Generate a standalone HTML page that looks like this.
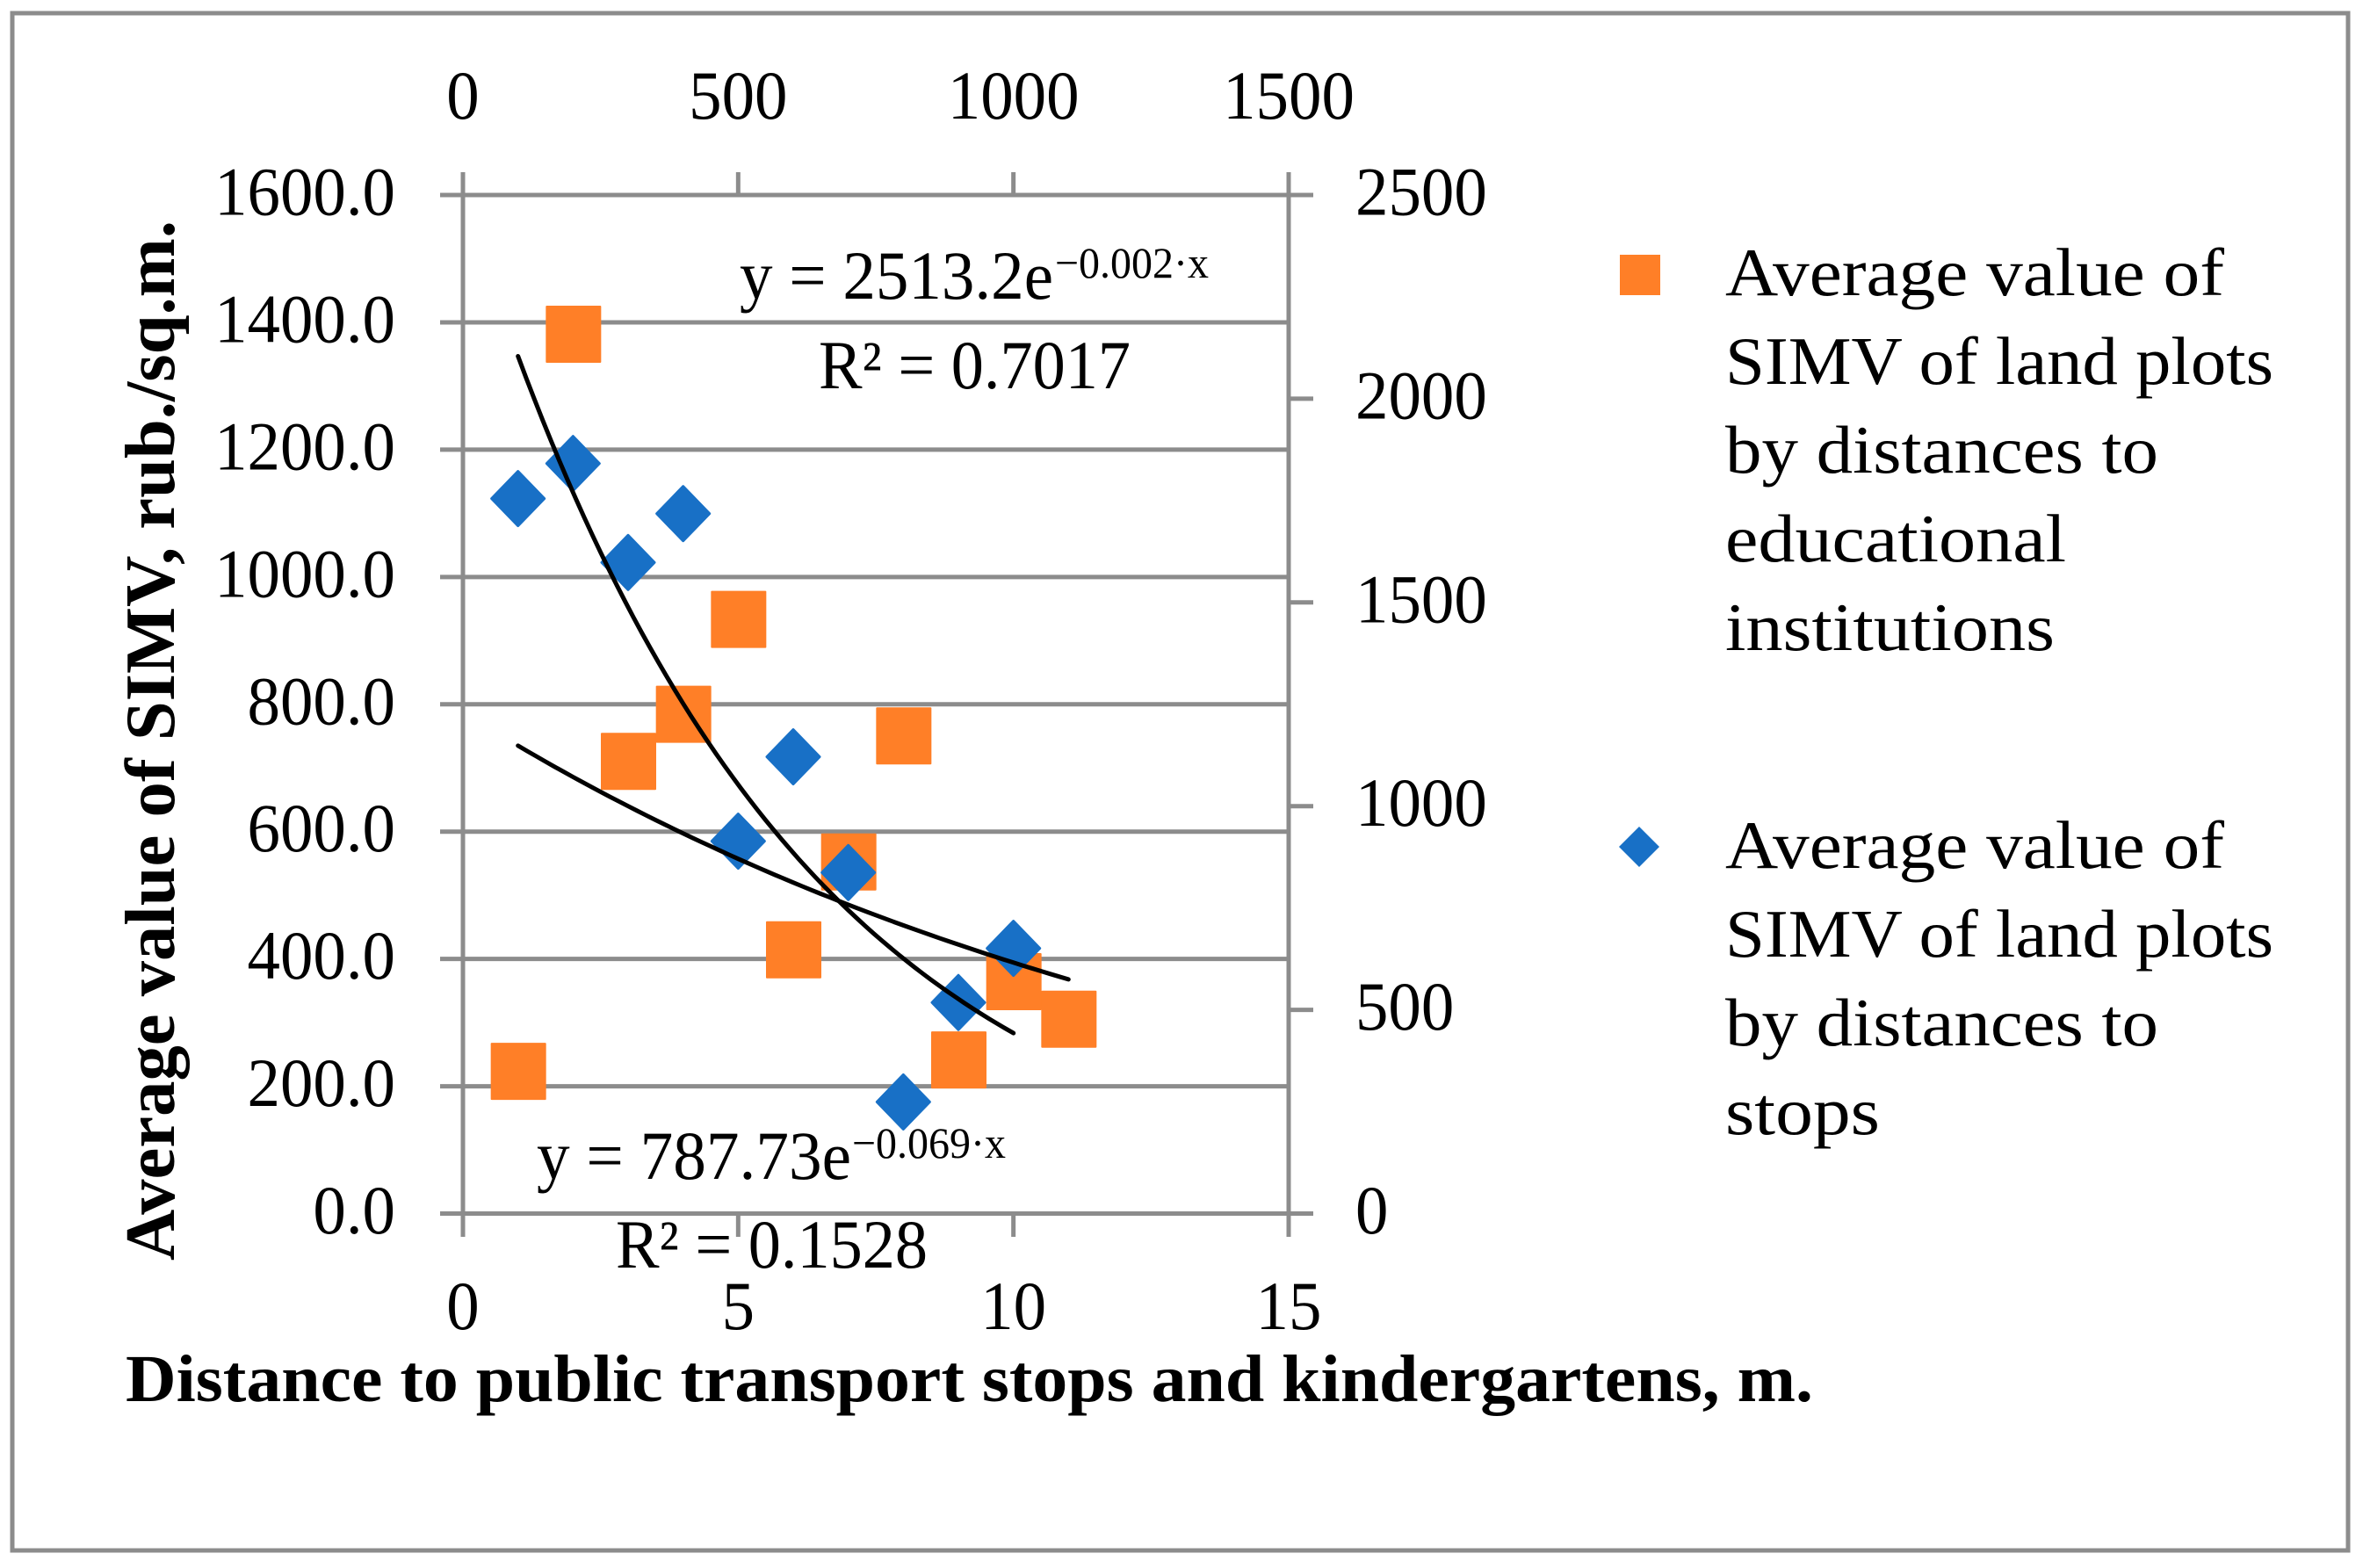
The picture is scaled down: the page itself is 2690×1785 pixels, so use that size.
<!DOCTYPE html>
<html lang="en">
<head>
<meta charset="utf-8">
<title>Average value of SIMV by distance</title>
<style>
html,body{margin:0;padding:0;background:#fff;width:2690px;height:1785px;overflow:hidden}
svg{display:block}
text{font-family:"Liberation Serif",serif;fill:#000}
</style>
</head>
<body>
<svg id="chart" xmlns="http://www.w3.org/2000/svg" width="2690" height="1785" viewBox="0 0 2690 1785">
  <rect x="14" y="15" width="2659" height="1750" fill="#fff" stroke="#8c8c8c" stroke-width="5"/>
  <g id="grid"></g>
  <g id="ticks"></g>
  <g id="marks"></g>
  <g id="trends"></g>

  <text transform="translate(198,1435) rotate(-90)" font-size="80" font-weight="bold" textLength="1184" lengthAdjust="spacingAndGlyphs">Average value of SIMV, rub./sq.m.</text>
  <text x="143" y="1595" font-size="76" font-weight="bold" textLength="1921" lengthAdjust="spacingAndGlyphs">Distance to public transport stops and kindergartens, m.</text>

  <text x="842" y="340" font-size="78" textLength="357" lengthAdjust="spacingAndGlyphs">y = 2513.2e</text>
  <text x="1201" y="316" font-size="50" textLength="175" lengthAdjust="spacingAndGlyphs">−0.002·x</text>
  <text x="932" y="442" font-size="78" textLength="355" lengthAdjust="spacingAndGlyphs">R² = 0.7017</text>

  <text x="611" y="1342" font-size="78" textLength="358" lengthAdjust="spacingAndGlyphs">y = 787.73e</text>
  <text x="970" y="1318" font-size="50" textLength="175" lengthAdjust="spacingAndGlyphs">−0.069·x</text>
  <text x="701" y="1443" font-size="78" textLength="355" lengthAdjust="spacingAndGlyphs">R² = 0.1528</text>

  <g>
    <g>
      <rect x="1844" y="290" width="46" height="46" fill="#ff7f27"/>
      <text x="1964" y="336" font-size="77" textLength="568" lengthAdjust="spacingAndGlyphs">Average value of</text>
      <text x="1964" y="437" font-size="77" textLength="624" lengthAdjust="spacingAndGlyphs">SIMV of land plots</text>
      <text x="1964" y="538" font-size="77" textLength="493" lengthAdjust="spacingAndGlyphs">by distances to</text>
      <text x="1964" y="639" font-size="77" textLength="388" lengthAdjust="spacingAndGlyphs">educational</text>
      <text x="1964" y="740" font-size="77" textLength="375" lengthAdjust="spacingAndGlyphs">institutions</text>
    </g>
    <g>
      <polygon points="1866,941 1889,964 1866,987 1843,964" fill="#1870c6"/>
      <text x="1964" y="988" font-size="77" textLength="568" lengthAdjust="spacingAndGlyphs">Average value of</text>
      <text x="1964" y="1089" font-size="77" textLength="624" lengthAdjust="spacingAndGlyphs">SIMV of land plots</text>
      <text x="1964" y="1190" font-size="77" textLength="493" lengthAdjust="spacingAndGlyphs">by distances to</text>
      <text x="1964" y="1291" font-size="77" textLength="176" lengthAdjust="spacingAndGlyphs">stops</text>
    </g>
  </g>
</svg>
<script>
// Chart data
const educationDistances = [1, 2, 3, 4, 5, 6, 7, 8, 9, 10, 11];
const educationValues = [224, 1382, 711, 785, 934, 415, 553, 751, 242, 365, 306];
const stopsDistances = [100, 200, 300, 400, 500, 600, 700, 800, 900, 1000];
const stopsValues = [1755, 1841, 1598, 1718, 914, 1121, 837, 274, 518, 651];

const bottomTicks = [0, 5, 10, 15];
const topTicks = [0, 500, 1000, 1500];
const leftTicks = [0, 200, 400, 600, 800, 1000, 1200, 1400, 1600];
const rightTicks = [0, 500, 1000, 1500, 2000, 2500];

const NS = 'http://www.w3.org/2000/svg';
const plot = {left: 527, right: 1467, top: 222, bottom: 1381.5};
const scale = (v, min, max, a, b) => a + (v - min) / (max - min) * (b - a);
const xBottom = v => scale(v, 0, 15, plot.left, plot.right);
const xTop = v => scale(v, 0, 1500, plot.left, plot.right);
const yLeft = v => scale(v, 0, 1600, plot.bottom, plot.top);
const yRight = v => scale(v, 0, 2500, plot.bottom, plot.top);

const gridG = document.getElementById('grid');
const tickG = document.getElementById('ticks');
const markG = document.getElementById('marks');
const trendG = document.getElementById('trends');
const GRAY = '#8c8c8c';

function make(tag, parent, attrs) {
  const n = document.createElementNS(NS, tag);
  for (const k in attrs) n.setAttribute(k, attrs[k]);
  parent.appendChild(n);
  return n;
}
function rule(x1, y1, x2, y2) {
  return make('line', gridG, {x1, y1, x2, y2, stroke: GRAY, 'stroke-width': 5});
}
function label(str, x, y, anchor) {
  const t = make('text', tickG, {x, y, 'font-size': 78, 'text-anchor': anchor});
  t.textContent = str;
  const w = t.getComputedTextLength();
  t.setAttribute('textLength', (w * 0.96).toFixed(1));
  t.setAttribute('lengthAdjust', 'spacingAndGlyphs');
  return t;
}

// primary horizontal gridlines and left ticks
leftTicks.forEach(v => {
  const g = rule(501, yLeft(v), plot.right, yLeft(v));
  
  
  const t = label(v.toFixed(1), 450, yLeft(v) + 22.5, 'end');
  
  
});
// secondary right axis ticks
rightTicks.forEach(v => {
  const g = rule(plot.right, yRight(v), 1495, yRight(v));
  
  
  const t = label(String(v), 1543, yRight(v) + 22.5, 'start');
  
  
});
// bottom axis ticks
bottomTicks.forEach(v => {
  const isEdge = v === bottomTicks[0] || v === bottomTicks[bottomTicks.length - 1];
  const g = rule(xBottom(v), isEdge ? plot.top : plot.bottom, xBottom(v), 1408);
  
  
  const t = label(String(v), xBottom(v), 1513, 'middle');
  
  
});
// top axis ticks
topTicks.forEach(v => {
  const g = rule(xTop(v), 196, xTop(v), plot.top);
  
  
  const t = label(String(v), xTop(v), 135, 'middle');
  
  
});

// orange squares: primary axes
educationDistances.forEach((d, i) => {
  const cx = xBottom(d), cy = yLeft(educationValues[i]);
  const s = make('rect', markG, {x: cx - 31, y: cy - 32, width: 63, height: 65, fill: '#ff7f27', rx: 1});
  
  
});
// blue diamonds: secondary axes
stopsDistances.forEach((d, i) => {
  const cx = xTop(d), cy = yRight(stopsValues[i]);
  const pts = [[cx, cy - 31], [cx + 30, cy], [cx, cy + 31], [cx - 30, cy]].map(p => p.join(',')).join(' ');
  const s = make('polygon', markG, {points: pts, fill: '#1870c6', stroke: '#1870c6', 'stroke-width': 3, 'stroke-linejoin': 'round'});
  
  
});

// exponential least-squares fit of each series
function expFit(xs, ys) {
  const n = xs.length, ls = ys.map(Math.log);
  const mx = xs.reduce((a, b) => a + b, 0) / n, my = ls.reduce((a, b) => a + b, 0) / n;
  let sxy = 0, sxx = 0;
  xs.forEach((x, i) => { sxy += (x - mx) * (ls[i] - my); sxx += (x - mx) * (x - mx); });
  const b = sxy / sxx;
  return {a: Math.exp(my - b * mx), b};
}
function trend(xs, ys, xf, yf) {
  const f = expFit(xs, ys), lo = Math.min(...xs), hi = Math.max(...xs), pts = [];
  for (let i = 0; i <= 60; i++) {
    const x = lo + (hi - lo) * i / 60;
    pts.push(xf(x).toFixed(1) + ',' + yf(f.a * Math.exp(f.b * x)).toFixed(1));
  }
  return make('polyline', trendG, {points: pts.join(' '), fill: 'none', stroke: '#000', 'stroke-width': 5, 'stroke-linecap': 'round'});
}
const educationTrend = trend(educationDistances, educationValues, xBottom, yLeft);


const stopsTrend = trend(stopsDistances, stopsValues, xTop, yRight);


</script>
</body>
</html>
